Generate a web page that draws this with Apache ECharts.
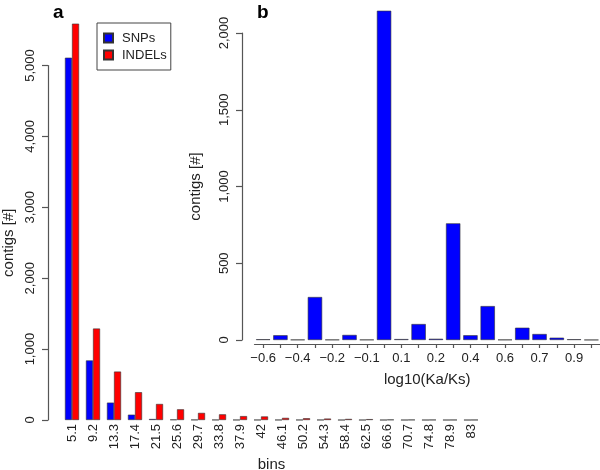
<!DOCTYPE html>
<html>
<head>
<meta charset="utf-8">
<script src="https://cdn.jsdelivr.net/npm/echarts@6/dist/echarts.min.js"></script>
<style>
  html, body { margin: 0; padding: 0; background: #fff; }
  #chart { width: 600px; height: 470px; }
</style>
</head>
<body>
<div id="chart"></div>
<script>
// panel a: contigs per bin
const bins = ['5.1', '9.2', '13.3', '17.4', '21.5', '25.6', '29.7', '33.8', '37.9', '42',
  '46.1', '50.2', '54.3', '58.4', '62.5', '66.6', '70.7', '74.8', '78.9', '83']
const snps = [5110, 840, 245, 75, 14, 6, 3, 2, 1, 1, 1, 1, 1, 0, 0, 0, 0, 0, 0, 0]
const indels = [5590, 1290, 683, 392, 226, 151, 100, 80, 55, 50, 30, 25, 20, 15, 12, 5, 3, 2, 1, 1]

// panel b: log10(Ka/Ks) histogram
const kaksBins = ['-0.6', '-0.5', '-0.4', '-0.3', '-0.2', '-0.2', '-0.1', '0', '0.1', '0.1',
  '0.2', '0.3', '0.4', '0.5', '0.6', '0.6', '0.7', '0.8', '0.9', '1']
const kaksCounts = [5, 31, 2, 280, 2, 33, 2, 2145, 6, 104, 8, 760, 31, 221, 2, 80, 39, 15, 5, 1]

const font = "'Liberation Sans', Arial, sans-serif"
const textColor = '#222'
const lineColor = '#555'
const barBorder = { borderColor: '#333', borderWidth: 0.6 }

const chart = echarts.init(document.getElementById('chart'))

const yAxisBase = {
  type: 'value',
  min: 0,
  splitLine: { show: false },
  axisLine: { show: true, onZero: false, lineStyle: { color: lineColor, width: 1.2 } },
  axisTick: { show: true, length: 6, lineStyle: { color: lineColor, width: 1.2 } },
  axisLabel: {
    rotate: 90, margin: 11, color: textColor, fontSize: 13, fontFamily: font,
    formatter: v => v.toLocaleString('en-US')
  },
  name: 'contigs [#]',
  nameLocation: 'middle',
  nameTextStyle: { color: textColor, fontSize: 15, fontFamily: font }
}

const options = {
  animation: false,
  backgroundColor: '#fff',
  title: [
    { text: 'a', left: 48, top: -2, textStyle: { fontSize: 19, fontWeight: 'bold', color: '#000', fontFamily: font } },
    { text: 'b', left: 252, top: -2, textStyle: { fontSize: 19, fontWeight: 'bold', color: '#000', fontFamily: font } }
  ],
  legend: {
    data: ['SNPs', 'INDELs'],
    orient: 'vertical',
    left: 97,
    top: 23,
    padding: [8, 4, 8, 6],
    itemGap: 3,
    itemWidth: 9,
    itemHeight: 9,
    icon: 'rect',
    borderColor: '#444',
    borderWidth: 1,
    textStyle: { color: textColor, fontSize: 13, lineHeight: 14, fontFamily: font, padding: [0, 0, 0, 4] }
  },
  grid: [
    { left: 61.5, right: 118.5, top: 65.5, bottom: 50, outerBoundsMode: 'none' },
    { left: 254.5, right: 0, top: 33, bottom: 130, outerBoundsMode: 'none' }
  ],
  xAxis: [
    {
      type: 'category',
      gridIndex: 0,
      data: bins,
      axisLine: { show: false },
      axisTick: { show: false },
      axisLabel: { rotate: 90, interval: 0, margin: 4, color: textColor, fontSize: 13, fontFamily: font },
      name: 'bins',
      nameLocation: 'middle',
      nameGap: 34,
      nameTextStyle: { color: textColor, fontSize: 15, fontFamily: font }
    },
    {
      type: 'category',
      gridIndex: 1,
      data: kaksBins,
      offset: 4,
      axisLine: { show: true, onZero: false, lineStyle: { color: lineColor, width: 1.2 } },
      axisTick: { show: true, alignWithLabel: true, interval: 0, length: 4, lineStyle: { color: lineColor, width: 1.2 } },
      axisLabel: {
        interval: 1, margin: 8, color: textColor, fontSize: 13, fontFamily: font,
        formatter: v => v.replace('-', '\u2212')
      },
      name: 'log10(Ka/Ks)',
      nameLocation: 'middle',
      nameGap: 28,
      nameTextStyle: { color: textColor, fontSize: 15, fontFamily: font }
    }
  ],
  yAxis: [
    Object.assign({}, yAxisBase, { gridIndex: 0, max: 5000, interval: 1000, offset: 13.5, nameGap: 27 }),
    Object.assign({}, yAxisBase, { gridIndex: 1, max: 2000, interval: 500, offset: 12.5, nameGap: 39 })
  ],
  series: [
    {
      name: 'SNPs', type: 'bar', xAxisIndex: 0, yAxisIndex: 0,
      data: snps, clip: false, barGap: '0%', barCategoryGap: '33%',
      itemStyle: Object.assign({ color: '#0000ff' }, barBorder)
    },
    {
      name: 'INDELs', type: 'bar', xAxisIndex: 0, yAxisIndex: 0,
      data: indels, clip: false, barGap: '0%', barCategoryGap: '33%',
      itemStyle: Object.assign({ color: '#ff0000' }, barBorder)
    },
    {
      name: 'Ka/Ks', type: 'bar', xAxisIndex: 1, yAxisIndex: 1,
      data: kaksCounts, clip: false, barCategoryGap: '17%',
      itemStyle: Object.assign({ color: '#0000ff' }, barBorder)
    }
  ]
}

chart.setOption(options)
</script>
</body>
</html>
